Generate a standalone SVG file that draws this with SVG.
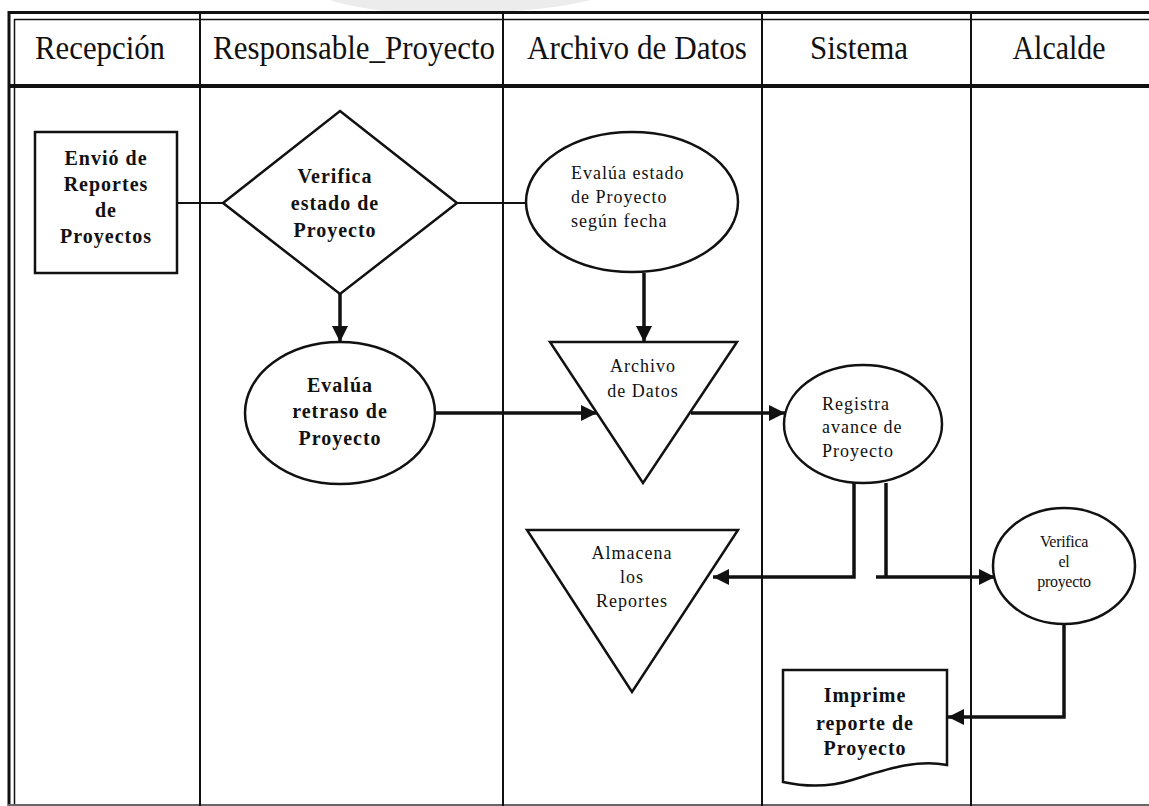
<svg xmlns="http://www.w3.org/2000/svg" width="1149" height="806" viewBox="0 0 1149 806">
  <style>
    .frame { stroke: #111; fill: none; }
    .lane { stroke: #111; stroke-width: 2; fill: none; }
    .shape { stroke: #111; stroke-width: 2.5; fill: #fff; }
    .thin { stroke: #111; stroke-width: 2; fill: none; }
    .flow { stroke: #111; stroke-width: 3.5; fill: none; }
    .head { font-family: "Liberation Serif", "Times New Roman", serif; font-size: 34px; fill: #111; }
    .bold { font-family: "Liberation Serif", "Times New Roman", serif; font-size: 20px; font-weight: bold; letter-spacing: 1px; fill: #111; text-anchor: middle; }
    .reg { font-family: "Liberation Serif", "Times New Roman", serif; font-size: 18px; letter-spacing: 1px; fill: #111; }
    .small { font-family: "Liberation Serif", "Times New Roman", serif; font-size: 16px; letter-spacing: -0.3px; fill: #111; text-anchor: middle; }
  </style>
  <defs>
    <marker id="arrow" markerUnits="userSpaceOnUse" markerWidth="17" markerHeight="17" refX="16" refY="8" orient="auto">
      <path d="M0,0 L16,8 L0,16 Z" fill="#111"/>
    </marker>
  </defs>

  <rect width="1149" height="806" fill="#fff"/>

  <!-- faint mark at the top edge -->
  <path d="M330,0 C360,10 400,14 455,13 C520,12 560,8 590,0 Z" fill="#ececec"/>

  <!-- swimlane frame -->
  <g id="frame">
    <line class="frame" x1="8" y1="12.5" x2="1149" y2="12.5" stroke-width="3"/>
    <line class="frame" x1="14" y1="19.5" x2="1149" y2="19.5" stroke-width="1.5"/>
    <line class="frame" x1="9" y1="11" x2="9" y2="806" stroke-width="3"/>
    <line class="frame" x1="14.5" y1="19" x2="14.5" y2="806" stroke-width="1.5"/>
    <line class="frame" x1="8" y1="86" x2="1149" y2="86" stroke-width="4"/>
    <line x1="8" y1="805" x2="1149" y2="805" stroke="#666" stroke-width="2"/>
    <line class="lane" x1="200" y1="14" x2="200" y2="806"/>
    <line class="lane" x1="503" y1="14" x2="503" y2="806"/>
    <line class="lane" x1="762" y1="14" x2="762" y2="806"/>
    <line class="lane" x1="971" y1="14" x2="971" y2="806"/>
  </g>

  <!-- lane titles -->
  <g id="headers">
    <text class="head" x="100" y="59" text-anchor="middle" textLength="130" lengthAdjust="spacingAndGlyphs">Recepción</text>
    <text class="head" x="354" y="59" text-anchor="middle" textLength="282" lengthAdjust="spacingAndGlyphs">Responsable_Proyecto</text>
    <text class="head" x="637" y="59" text-anchor="middle" textLength="220" lengthAdjust="spacingAndGlyphs">Archivo de Datos</text>
    <text class="head" x="859" y="59" text-anchor="middle" textLength="98" lengthAdjust="spacingAndGlyphs">Sistema</text>
    <text class="head" x="1059" y="59" text-anchor="middle" textLength="93" lengthAdjust="spacingAndGlyphs">Alcalde</text>
  </g>

  <!-- connectors -->
  <g id="connectors">
    <path class="thin" d="M177,203 H223"/>
    <path class="thin" d="M457,203 H526"/>
    <path class="flow" d="M340,294 V342" marker-end="url(#arrow)"/>
    <path class="flow" d="M644,273 V342" marker-end="url(#arrow)"/>
    <path class="flow" d="M434,413 H597" marker-end="url(#arrow)"/>
    <path class="flow" d="M691,413 H785" marker-end="url(#arrow)"/>
    <path class="flow" d="M854,483 V577 H713" marker-end="url(#arrow)"/>
    <path class="flow" d="M886,483 V577"/>
    <path class="flow" d="M876,577 H995" marker-end="url(#arrow)"/>
    <path class="flow" d="M1064,623 V717 H948" marker-end="url(#arrow)"/>
  </g>

  <g id="envio-reportes">
    <rect class="shape" x="35" y="132" width="142" height="141"/>
    <text class="bold" x="106" y="165">Envió de</text>
    <text class="bold" x="106" y="191">Reportes</text>
    <text class="bold" x="106" y="217">de</text>
    <text class="bold" x="106" y="243">Proyectos</text>
  </g>

  <g id="verifica-estado">
    <polygon class="shape" points="340,111 457,203 340,294 223,203"/>
    <text class="bold" x="335" y="183">Verifica</text>
    <text class="bold" x="335" y="210">estado de</text>
    <text class="bold" x="335" y="237">Proyecto</text>
  </g>

  <g id="evalua-estado">
    <ellipse class="shape" cx="632" cy="202" rx="106" ry="70"/>
    <text class="reg" x="571" y="179">Evalúa estado</text>
    <text class="reg" x="571" y="203">de Proyecto</text>
    <text class="reg" x="571" y="227">según fecha</text>
  </g>

  <g id="evalua-retraso">
    <ellipse class="shape" cx="340" cy="413" rx="95" ry="71"/>
    <text class="bold" x="340" y="392">Evalúa</text>
    <text class="bold" x="340" y="418">retraso de</text>
    <text class="bold" x="340" y="445">Proyecto</text>
  </g>

  <g id="archivo-datos">
    <polygon class="shape" points="550,342 737,342 643,483"/>
    <text class="reg" x="643" y="372" text-anchor="middle">Archivo</text>
    <text class="reg" x="643" y="397" text-anchor="middle">de Datos</text>
  </g>

  <g id="registra-avance">
    <ellipse class="shape" cx="863" cy="424" rx="79" ry="59"/>
    <text class="reg" x="822" y="410">Registra</text>
    <text class="reg" x="822" y="433">avance de</text>
    <text class="reg" x="822" y="457">Proyecto</text>
  </g>

  <g id="almacena-reportes">
    <polygon class="shape" points="527,530 738,530 632,692"/>
    <text class="reg" x="632" y="559" text-anchor="middle">Almacena</text>
    <text class="reg" x="632" y="583" text-anchor="middle">los</text>
    <text class="reg" x="632" y="607" text-anchor="middle">Reportes</text>
  </g>

  <g id="verifica-proyecto">
    <ellipse class="shape" cx="1064" cy="566" rx="71" ry="58"/>
    <text class="small" x="1064" y="547">Verifica</text>
    <text class="small" x="1064" y="567">el</text>
    <text class="small" x="1064" y="587">proyecto</text>
  </g>

  <g id="imprime-reporte">
    <path class="shape" d="M783,670 H947 V765 C915,759 885,770 852,780 C830,787 806,787 783,782 Z"/>
    <text class="bold" x="865" y="702">Imprime</text>
    <text class="bold" x="865" y="730">reporte de</text>
    <text class="bold" x="865" y="755">Proyecto</text>
  </g>
</svg>
